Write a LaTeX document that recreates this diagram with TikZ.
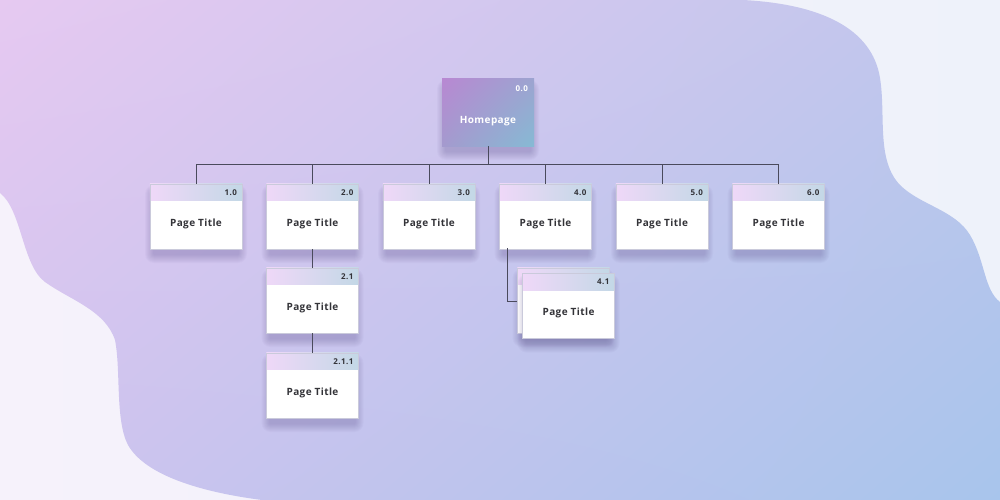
\documentclass[tikz,border=0pt]{standalone}
\usepackage{fontspec}
\setmainfont{Open Sans}
\usetikzlibrary{shadings}
\definecolor{bgL}{HTML}{F6F2FB}
\definecolor{bgR}{HTML}{EEF2FA}
\definecolor{blobUL}{HTML}{E6C9F1}
\definecolor{blobUR}{HTML}{BFC6EC}
\definecolor{blobLL}{HTML}{CFC3EE}
\definecolor{blobLR}{HTML}{A8C5EC}
\definecolor{hdrL}{HTML}{EFD8F8}
\definecolor{hdrR}{HTML}{C3D8E6}
\definecolor{edge}{HTML}{CACADB}
\definecolor{txt}{HTML}{333338}
\definecolor{conncol}{HTML}{4A4A5C}
\definecolor{shcol}{HTML}{5A4E8A}
\definecolor{hpUL}{HTML}{B888D2}
\definecolor{hpUR}{HTML}{9CA4D0}
\definecolor{hpLL}{HTML}{A49ACE}
\definecolor{hpLR}{HTML}{86BAD4}
\tikzset{
  pgbox/.style={rectangle, minimum width=92pt, minimum height=65pt, inner sep=0pt, fill=white},
  hdr/.style={left color=hdrL, right color=hdrR},
  boxedge/.style={draw=edge, line width=0.6pt},
  shlayer/.style={fill=shcol, fill opacity=0.035},
  ttl/.style={font=\addfontfeatures{LetterSpace=4}\fontsize{10}{12}\selectfont\bfseries, text=txt, inner sep=0pt},
  num/.style={font=\addfontfeatures{LetterSpace=6}\fontsize{8}{10}\selectfont\bfseries, text=txt, inner sep=0pt},
  conn/.style={draw=conncol, line width=0.8pt},
  hp/.style={rectangle, minimum width=92pt, minimum height=67pt, inner sep=0pt,
    upper left=hpUL, upper right=hpUR, lower left=hpLL, lower right=hpLR},
}
% soft shadow: centre x, top y, width, height
\newcommand\softshade[4]{%
  \foreach \r in {1,...,9}{%
    \fill[shlayer, rounded corners=\r pt] (#1-#3/2+4-\r, #2+10-\r) rectangle (#1+#3/2-4+\r, #2+#4+5+\r);
  }%
}
\newcommand\pgboxmk[4]{%
  \softshade{#2}{#3}{92}{65}
  \node[pgbox] (#1) at (#2,#3+32.5) {};
  \shade[hdr] (#1.north west) rectangle ([yshift=-17pt]#1.north east);
  \draw[boxedge] (#1.north west) rectangle (#1.south east);
  \node[ttl] (#1t) at ([yshift=-7pt]#1.center) {Page Title};
  \node[num,anchor=east] (#1n) at ([xshift=-5pt,yshift=-8.5pt]#1.north east) {#4};
}
\begin{document}
\begin{tikzpicture}[x=1pt,y=-1pt]
\useasboundingbox (0,0) rectangle (1000,500);
% background
\shade[left color=bgL, right color=bgR] (0,0) rectangle (1000,500);
\shade[upper left=blobUL, upper right=blobUR, lower left=blobLL, lower right=blobLR]
  (0,0) -- (743,0) .. controls (820,4) and (872,28) .. (880,78)
  .. controls (886,115) and (876,160) .. (900,185)
  .. controls (920,205) and (955,210) .. (970,235)
  .. controls (985,260) and (984,290) .. (1000,302)
  -- (1000,500) -- (262,500)
  .. controls (200,492) and (145,475) .. (128,445)
  .. controls (115,420) and (121,370) .. (115,340)
  .. controls (105,310) and (70,300) .. (45,282)
  .. controls (22,265) and (22,210) .. (0,193) -- cycle;
% homepage
\softshade{488}{79}{92}{67}
\node[hp] (h) at (488,112.5) {};
\node[ttl, text=white] (ht) at (488,121) {Homepage};
\node[num, text=white, anchor=east] (hn) at ([xshift=-6pt,yshift=-10pt]h.north east) {0.0};
% pages
\pgboxmk{p1}{196}{184}{1.0}
\pgboxmk{p2}{312.5}{184}{2.0}
\pgboxmk{p3}{429}{184}{3.0}
\pgboxmk{p4}{545.5}{184}{4.0}
\pgboxmk{p5}{662}{184}{5.0}
\pgboxmk{p6}{778.5}{184}{6.0}
\pgboxmk{p21}{312.5}{268}{2.1}
\pgboxmk{p211}{312.5}{353}{2.1.1}
% stacked 4.1
\softshade{563.5}{268}{92}{65}
\node[pgbox] (p41b) at (563.5,268+32.5) {};
\shade[hdr] (p41b.north west) rectangle ([yshift=-17pt]p41b.north east);
\draw[boxedge] (p41b.north west) rectangle (p41b.south east);
\pgboxmk{p41}{568.5}{273.5}{4.1}
% connectors
\coordinate (bus) at (488,164.5);
\coordinate (p4drop) at (507,248);
\draw[conn] (h.south) -- (bus);
\draw[conn] (p1.north) |- (bus) -| (p6.north);
\draw[conn] (p2.north) -- (p2.north |- bus);
\draw[conn] (p3.north) -- (p3.north |- bus);
\draw[conn] (p4.north) -- (p4.north |- bus);
\draw[conn] (p5.north) -- (p5.north |- bus);
\draw[conn] (p2.south) -- (p21.north);
\draw[conn] (p21.south) -- (p211.north);
\draw[conn] (p4drop) |- (p41b.west |- 0,301);
\end{tikzpicture}
\end{document}
